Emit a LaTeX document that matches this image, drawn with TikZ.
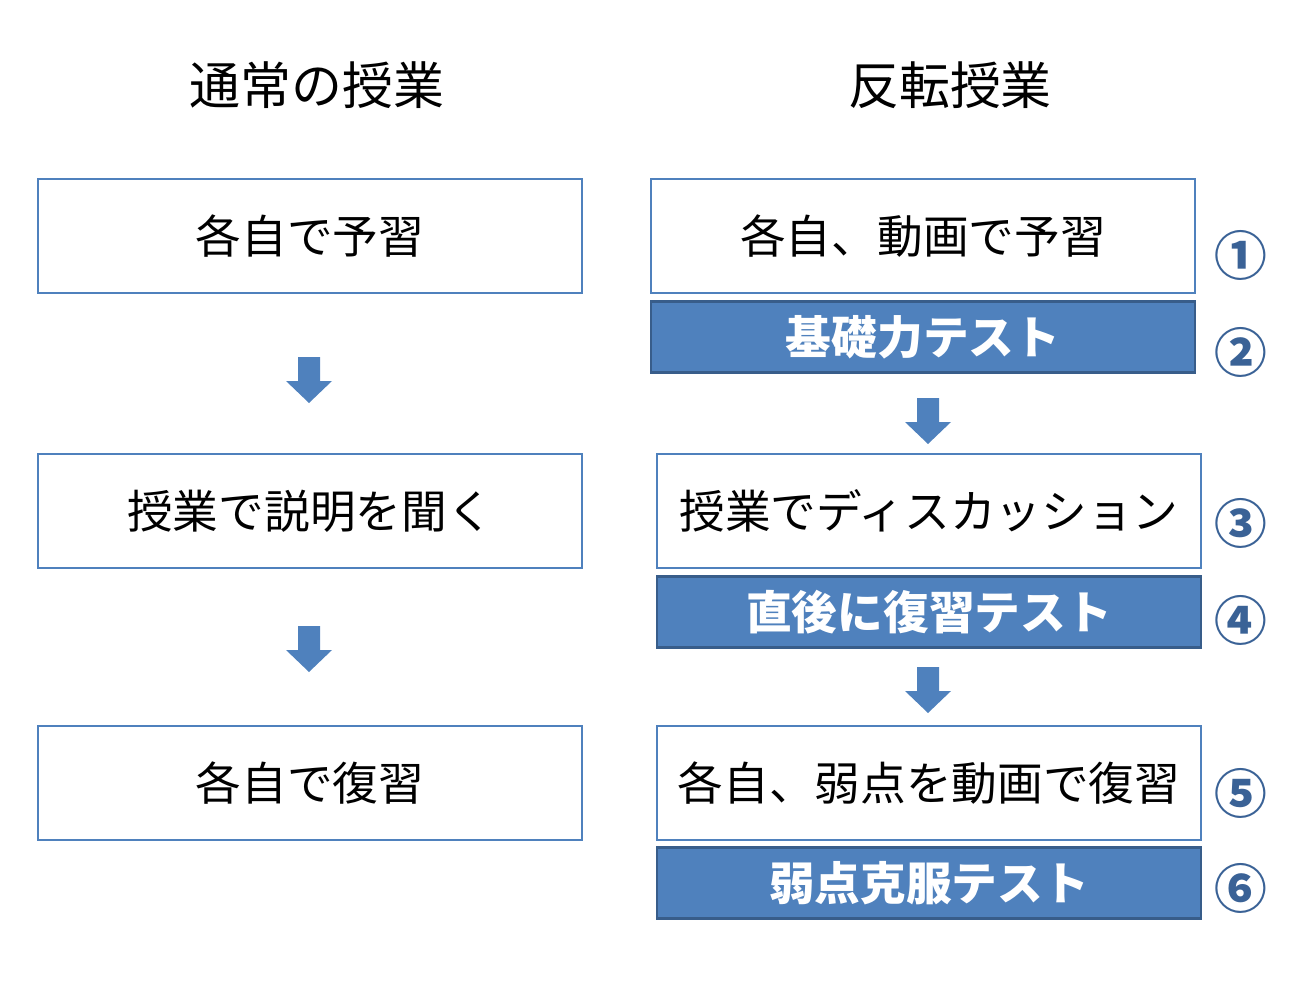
\documentclass[tikz,border=0pt]{standalone}
\usepackage{fontspec}
\setmainfont{Noto Sans CJK JP}
\definecolor{boxblue}{HTML}{4F81BD}
\definecolor{edgeblue}{HTML}{385D8A}
\definecolor{numblue}{HTML}{3A6296}
\newcommand{\bw}{10.88cm}
\newcommand{\bh}{2.28cm}
% block arrow pointing down, top centre at #1,#2
\newcommand{\blockarrow}[2]{%
  \fill[boxblue] (#1-11,#2) -- (#1+11,#2) -- (#1+11,#2+24) -- (#1+23,#2+24)
    -- (#1,#2+46) -- (#1-23,#2+24) -- (#1-11,#2+24) -- cycle;}
\begin{document}
\begin{tikzpicture}[x=0.02cm,y=-0.02cm,
    box/.style={draw=boxblue, line width=1.5pt, minimum width=\bw, minimum height=\bh, inner sep=0pt, font=\fontsize{26}{30}\selectfont},
    test/.style={draw=edgeblue, fill=boxblue, line width=1.2pt, minimum width=\bw, minimum height=1.42cm, inner sep=0pt, text=white, font=\fontsize{26}{30}\selectfont\bfseries},
    num/.style={text=numblue, font=\fontsize{30}{32}\selectfont\bfseries}]
    \useasboundingbox (0,0) rectangle (1311,990);
    % Titles
    \node[font=\fontsize{29}{32}\selectfont] (title-l) at (317,85) {通常の授業};
    \node[font=\fontsize{29}{32}\selectfont] (title-r) at (950,85) {反転授業};

    % Left column
    \node[box] (left-1) at (310,236) {\raisebox{-3pt}{各自で予習}};
    \node[box] (left-2) at (310,511) {\raisebox{-3pt}{授業で説明を聞く}};
    \node[box] (left-3) at (310,783) {\raisebox{-3pt}{各自で復習}};
    \blockarrow{309}{357}
    \blockarrow{309}{626}

    % Right column
    \node[box] (right-1) at (923,236) {\raisebox{-3pt}{各自、動画で予習}};
    \node[test] (test-1) at (923,337) {基礎力テスト};
    \node[box] (right-2) at (929,511) {\raisebox{-3pt}{授業でディスカッション}};
    \node[test] (test-2) at (929,612) {直後に復習テスト};
    \node[box] (right-3) at (929,783) {\raisebox{-3pt}{各自、弱点を動画で復習}};
    \node[test] (test-3) at (929,883) {弱点克服テスト};
    \blockarrow{928}{398}
    \blockarrow{928}{667}

    % Step numbers
    \node[num] (num-1) at (1241,255) {①};
    \node[num] (num-2) at (1241,352) {②};
    \node[num] (num-3) at (1241,523) {③};
    \node[num] (num-4) at (1241,620) {④};
    \node[num] (num-5) at (1241,793) {⑤};
    \node[num] (num-6) at (1241,888) {⑥};
\end{tikzpicture}
\end{document}
